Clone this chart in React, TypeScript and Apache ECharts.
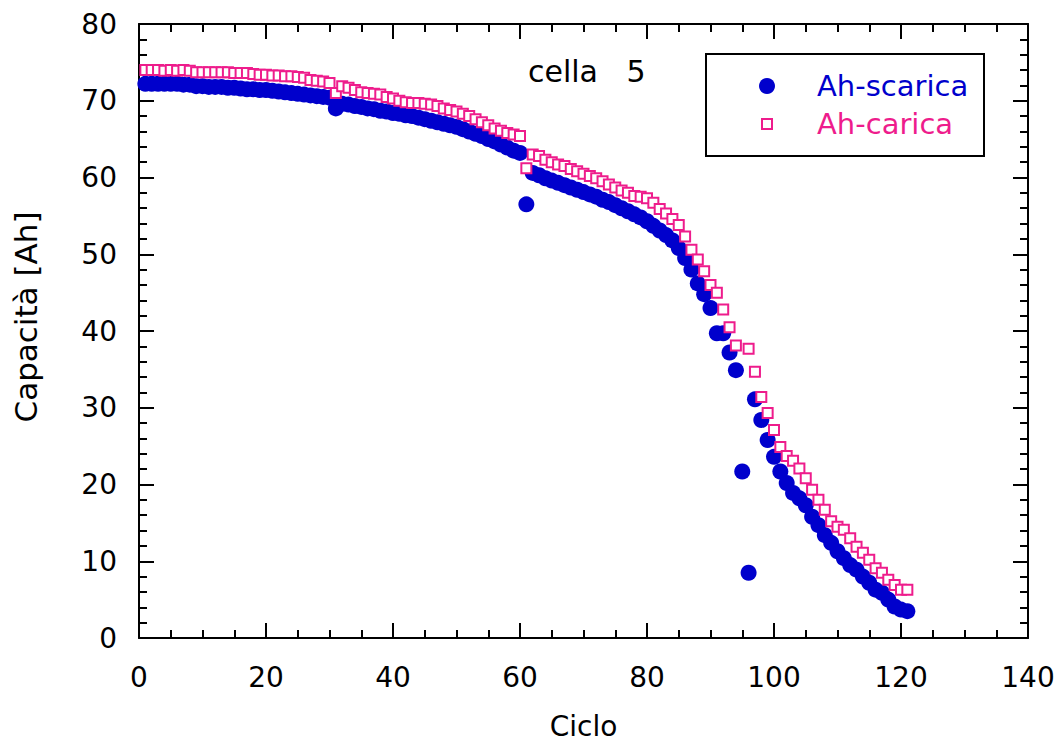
import React, { useEffect, useRef } from "react";
import * as echarts from "echarts";

const cycles: number[] = Array.from({ length: 121 }, (_, i) => i + 1);

const ahScarica: (number | null)[] = [
  72.2, 72.2, 72.2, 72.2, 72.2, 72.2, 72.1, 72.1, 71.9, 71.9,
  71.8, 71.8, 71.8, 71.7, 71.7, 71.6, 71.5, 71.5, 71.4, 71.4,
  71.3, 71.2, 71.1, 71.0, 70.9, 70.8, 70.7, 70.6, 70.5, 70.4,
  69.0, 69.6, 69.5, 69.3, 69.2, 69.0, 68.9, 68.7, 68.6, 68.4,
  68.3, 68.1, 68.0, 67.8, 67.6, 67.4, 67.2, 67.0, 66.8, 66.6,
  66.3, 66.0, 65.7, 65.4, 65.0, 64.7, 64.3, 63.9, 63.5, 63.2,
  56.5, 60.6, 60.3, 59.9, 59.6, 59.3, 59.0, 58.7, 58.4, 58.1,
  57.8, 57.5, 57.1, 56.8, 56.4, 56.0, 55.6, 55.2, 54.8, 54.3,
  53.7, 53.1, 52.5, 51.8, 50.8, 49.5, 48.0, 46.2, 44.8, 43.0,
  39.7, 39.7, 37.2, 34.9, 21.7, 8.5, 31.1, 28.4, 25.8, 23.6,
  21.7, 20.2, 18.9, 18.2, 17.3, 15.8, 14.7, 13.4, 12.4, 11.3,
  10.4, 9.5, 8.9, 8.0, 7.2, 6.3, 5.9, 5.0, 4.1, 3.7,
  3.5,
];

const ahCarica: (number | null)[] = [
  74.0, 74.0, 74.0, 73.9, 74.0, 73.9, 74.0, 73.9, 73.7, 73.7,
  73.7, 73.7, 73.7, 73.7, 73.6, 73.6, 73.6, 73.5, 73.4, 73.4,
  73.3, 73.3, 73.2, 73.2, 73.1, 73.0, 72.7, 72.6, 72.5, 72.3,
  71.0, 71.9, 71.7, 71.4, 71.1, 71.0, 70.9, 70.8, 70.5, 70.3,
  70.0, 69.8, 69.7, 69.7, 69.6, 69.5, 69.3, 69.0, 68.8, 68.6,
  68.3, 68.0, 67.6, 67.2, 66.8, 66.4, 66.1, 65.8, 65.6, 65.4,
  61.2, 63.0, 62.8, 62.3, 62.0, 61.7, 61.5, 61.1, 60.8, 60.5,
  60.2, 59.9, 59.5, 59.1, 58.7, 58.3, 58.0, 57.6, 57.5, 57.3,
  56.7, 55.9, 55.3, 54.6, 53.8, 52.3, 50.6, 49.3, 47.8, 46.0,
  45.0, 42.8, 40.5, 38.1, null, 37.7, 34.7, 31.4, 29.3, 27.1,
  24.9, 23.7, 23.1, 22.1, 20.8, 19.3, 18.0, 16.7, 15.2, 14.5,
  14.1, 13.0, 11.9, 11.1, 10.2, 9.1, 8.5, 7.6, 6.9, 6.3,
  6.3,
];

const seriesNames = ["Ah-scarica", "Ah-carica"];
const titleText = "cella   5";
const xName = "Ciclo";
const yName = "Capacità [Ah]";

const BLUE = "#0000CC";
const PINK = "#EE1C8C";
const FONT = "DejaVu Sans";

export default function App() {
  const ref = useRef<HTMLDivElement>(null);
  useEffect(() => {
    if (!ref.current) return;
    const chart = echarts.init(ref.current, undefined, { renderer: "svg" });
    const toPairs = (vals: (number | null)[]) =>
      cycles.map((c, i) => [c, vals[i]]).filter((p) => p[1] !== null);

    const tickCommon = {
      axisLine: { show: true, onZero: false, lineStyle: { color: "#000", width: 2 } },
      axisTick: { show: true, inside: true, length: 15, lineStyle: { color: "#000", width: 2 } },
      minorTick: { show: true, length: 8, lineStyle: { color: "#000", width: 2 } },
      splitLine: { show: false },
    };

    chart.setOption({
      animation: false,
      backgroundColor: "#fff",
      grid: { left: 139, right: 36, top: 24, bottom: 105, containLabel: false },
      xAxis: [
        {
          type: "value", min: 0, max: 140, interval: 20, position: "bottom",
          ...tickCommon,
          minorTick: { ...tickCommon.minorTick, splitNumber: 4 },
          axisLabel: { margin: 25, color: "#000", fontSize: 28, fontFamily: FONT },
          name: xName, nameLocation: "middle", nameGap: 74,
          nameTextStyle: { color: "#000", fontSize: 28, fontFamily: FONT },
        },
        {
          type: "value", min: 0, max: 140, interval: 20, position: "top",
          ...tickCommon,
          minorTick: { ...tickCommon.minorTick, splitNumber: 4 },
          axisLabel: { show: false },
        },
      ],
      yAxis: [
        {
          type: "value", min: 0, max: 80, interval: 10, position: "left",
          ...tickCommon,
          minorTick: { ...tickCommon.minorTick, splitNumber: 5 },
          axisLabel: { margin: 22, color: "#000", fontSize: 28, fontFamily: FONT },
          name: yName, nameLocation: "middle", nameGap: 98, nameRotate: 90,
          nameTextStyle: { color: "#000", fontSize: 31, fontFamily: FONT, padding: [0, 0, 0, 28] },
        },
        {
          type: "value", min: 0, max: 80, interval: 10, position: "right",
          ...tickCommon,
          minorTick: { ...tickCommon.minorTick, splitNumber: 5 },
          axisLabel: { show: false },
        },
      ],
      series: [
        {
          name: seriesNames[0], type: "scatter", xAxisIndex: 0, yAxisIndex: 0,
          symbol: "circle", symbolSize: 16,
          itemStyle: { color: BLUE, opacity: 1 },
          data: toPairs(ahScarica), z: 2,
        },
        {
          name: seriesNames[1], type: "scatter", xAxisIndex: 0, yAxisIndex: 0,
          symbol: "rect", symbolSize: 10,
          itemStyle: { color: "#fff", borderColor: PINK, borderWidth: 2, opacity: 1 },
          data: toPairs(ahCarica), z: 3,
        },
      ],
      graphic: [
        {
          type: "text", left: 528, top: 56, z: 10,
          style: { text: titleText, fill: "#000", fontSize: 30, fontFamily: FONT },
        },
        {
          type: "group", left: 705, top: 53, z: 10,
          children: [
            { type: "rect", shape: { x: 0, y: 0, width: 278, height: 102 },
              style: { fill: "#fff", stroke: "#000", lineWidth: 2 } },
            { type: "circle", shape: { cx: 61, cy: 32, r: 8 }, style: { fill: BLUE } },
            { type: "text", x: 111, y: 32,
              style: { text: seriesNames[0], fill: BLUE, fontSize: 29, fontFamily: FONT, verticalAlign: "middle" } },
            { type: "rect", shape: { x: 56, y: 65, width: 10, height: 10 },
              style: { fill: "#fff", stroke: PINK, lineWidth: 2 } },
            { type: "text", x: 111, y: 70,
              style: { text: seriesNames[1], fill: PINK, fontSize: 29, fontFamily: FONT, verticalAlign: "middle" } },
          ],
        },
      ],
    });
    return () => chart.dispose();
  }, []);

  return (
    <div
      ref={ref}
      style={{ position: "fixed", left: 0, top: 0, width: 1064, height: 745, background: "#fff" }}
    />
  );
}
